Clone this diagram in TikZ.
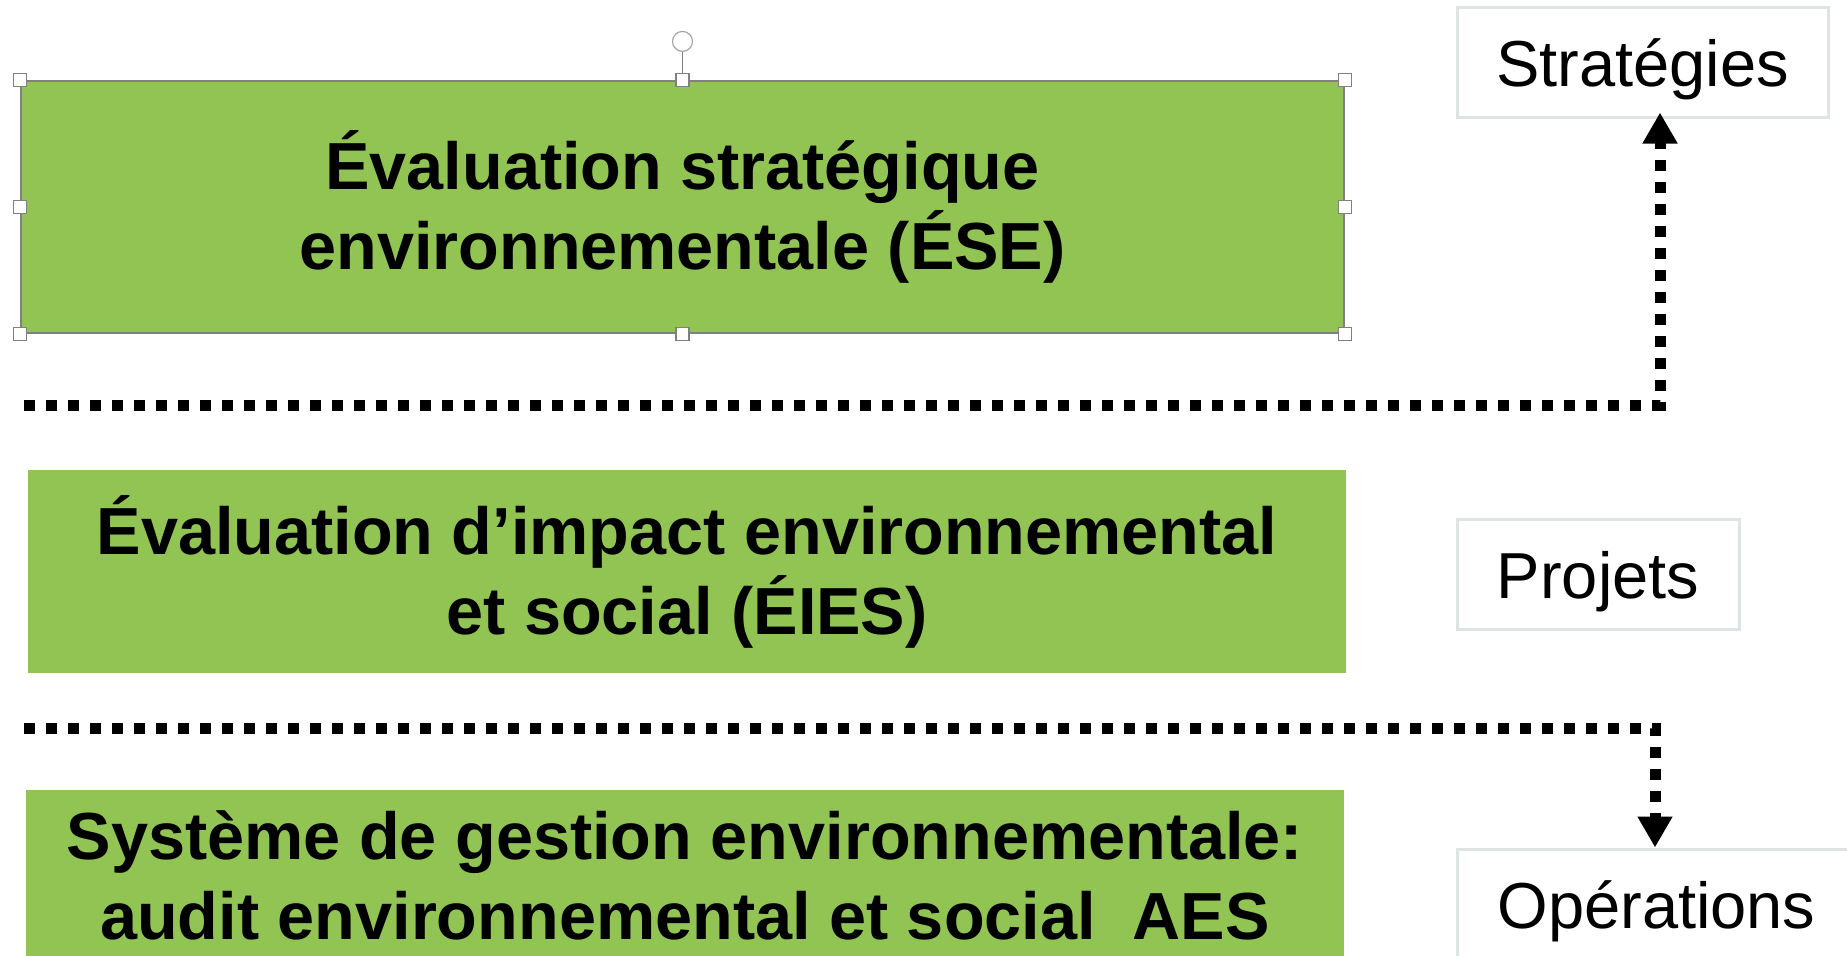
\documentclass[tikz,border=0pt]{standalone}
\usepackage{fontspec}
\setmainfont{Liberation Sans}
\usetikzlibrary{arrows.meta,calc}

\definecolor{verde}{RGB}{146,196,84}
\definecolor{bordo}{RGB}{222,228,228}

\tikzset{
  valut/.style={fill=verde,font=\fontsize{33.3}{40}\selectfont\bfseries,align=center,inner sep=0pt},
  livello/.style={draw=bordo,line width=1.5pt,font=\fontsize{32.5}{39}\selectfont,minimum height=55pt,inner sep=0pt,text height=30.8pt,text depth=6.8pt},
  separa/.style={line width=5.5pt,dash pattern=on 5.5pt off 5.5pt},
  maniglia/.style={draw=gray,fill=white,line width=.6pt,minimum size=6.5pt,inner sep=0pt}
}

\begin{document}
\begin{tikzpicture}[x=0.5pt,y=-0.5pt]
\useasboundingbox (0,0) rectangle (1847,955);

%Valutazioni
\begin{scope}
\node[valut,draw=gray,line width=1pt,minimum width=661.5pt,minimum height=126pt] (ese) at (682.5,207)
  {Évaluation stratégique\\environnementale (ÉSE)};
\node[valut,minimum width=659pt,minimum height=101.5pt] (eies) at (687,571.5)
  {Évaluation d’impact environnemental\\et social (ÉIES)};
\node[valut,minimum width=659pt,minimum height=85pt] (sge) at (685,875)
  {Système de gestion environnementale:\\ audit environnemental et social~~AES};
\end{scope}

%Maniglie
\draw[gray,line width=.6pt] (ese.north) -- ++(0,-28) node[above,circle,draw=gray!70,fill=white,minimum size=10pt,inner sep=0pt] (rot) {};
\foreach \a in {north west,north,north east,west,east,south west,south,south east}
  \node[maniglia] at (ese.\a) {};

%Livelli
\begin{scope}
\node[livello,minimum width=185.5pt] (strat) at (1642.5,62) {Stratégies};
\node[livello,minimum width=141pt] (proj) at (1598,574.5) {Projets};
\node[livello,minimum width=199.5pt] (oper) at (1656.5,904) {Opérations};
\end{scope}

%Separatori
\coordinate (s1) at (24,405);
\coordinate (g1) at (1660,405);
\coordinate (s2) at (24,728);
\coordinate (g2) at (1655,728);

\draw[separa,-{Triangle[width=16.5pt,length=15.5pt]}] (s1) -- (g1) -- ([yshift=3pt]g1 |- strat.south);
\draw[separa,-{Triangle[width=16.5pt,length=15.5pt]}] (s2) -- (g2) -- (g2 |- oper.north);

\end{tikzpicture}
\end{document}
